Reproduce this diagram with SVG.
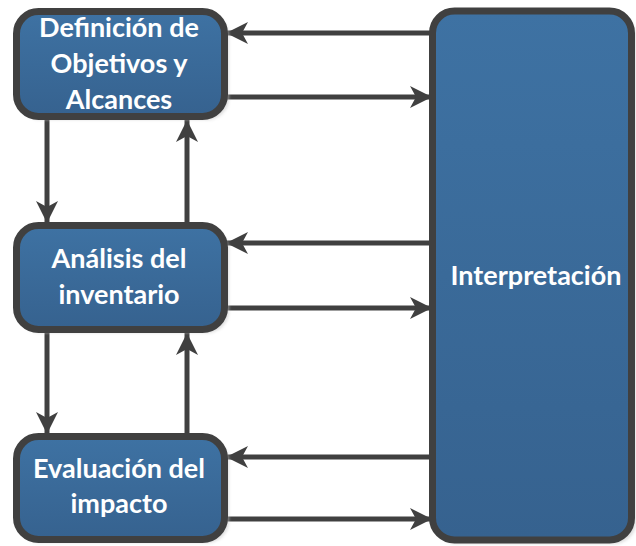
<svg xmlns="http://www.w3.org/2000/svg" width="636" height="546" viewBox="0 0 636 546">
<defs>
<linearGradient id="g" x1="0" y1="0" x2="0" y2="1">
<stop offset="0" stop-color="#3e72a3"/>
<stop offset="1" stop-color="#36628f"/>
</linearGradient>
<marker id="ah" markerUnits="userSpaceOnUse" markerWidth="24" markerHeight="24" viewBox="0 0 24 24" refX="22" refY="12" orient="auto">
<path d="M0,1 L22,12 L0,23 L6,12 Z" fill="#404040"/>
</marker>
<filter id="sh" x="-10%" y="-10%" width="130%" height="130%">
<feGaussianBlur stdDeviation="1.5"/>
</filter>
</defs>
<style>
.box{fill:url(#g);stroke:#404040;stroke-width:7}
.shadow{fill:#c8c8c8;opacity:0.6}
.t{font-family:Lato,"Liberation Sans",Arial,sans-serif;font-weight:bold;font-size:27px;fill:#ffffff;text-anchor:middle}
.c{stroke:#404040;stroke-width:5;fill:none;marker-end:url(#ah)}
</style>
<g id="connectors">
<line class="c" x1="432" y1="33" x2="226" y2="33"/>
<line class="c" x1="226" y1="97" x2="432" y2="97"/>
<line class="c" x1="432" y1="243" x2="226" y2="243"/>
<line class="c" x1="226" y1="308" x2="432" y2="308"/>
<line class="c" x1="432" y1="457" x2="226" y2="457"/>
<line class="c" x1="226" y1="519" x2="432" y2="519"/>
<line class="c" x1="47" y1="120" x2="47" y2="223"/>
<line class="c" x1="187" y1="222" x2="187" y2="120"/>
<line class="c" x1="47" y1="333" x2="47" y2="434"/>
<line class="c" x1="187" y1="433" x2="187" y2="333"/>
</g>
<g id="n1">
<rect class="shadow" x="19" y="14" width="210" height="106" rx="22" filter="url(#sh)"/>
<rect class="box" x="16.5" y="11.5" width="208" height="105" rx="22"/>
<text class="t" x="119" y="37">Definición de</text>
<text class="t" x="119" y="73">Objetivos y</text>
<text class="t" x="119" y="109">Alcances</text>
</g>
<g id="n2">
<rect class="shadow" x="19" y="228" width="210" height="105" rx="22" filter="url(#sh)"/>
<rect class="box" x="16.5" y="225.5" width="208" height="104" rx="22"/>
<text class="t" x="119" y="268">Análisis del</text>
<text class="t" x="119" y="304">inventario</text>
</g>
<g id="n3">
<rect class="shadow" x="19" y="439" width="210" height="104" rx="22" filter="url(#sh)"/>
<rect class="box" x="16.5" y="436.5" width="208" height="103" rx="22"/>
<text class="t" x="119" y="478">Evaluación del</text>
<text class="t" x="119" y="513">impacto</text>
</g>
<g id="n4">
<rect class="shadow" x="435" y="14" width="201" height="530" rx="22" filter="url(#sh)"/>
<rect class="box" x="432.5" y="11" width="199" height="529" rx="22"/>
<text class="t" x="536" y="285">Interpretación</text>
</g>
</svg>
